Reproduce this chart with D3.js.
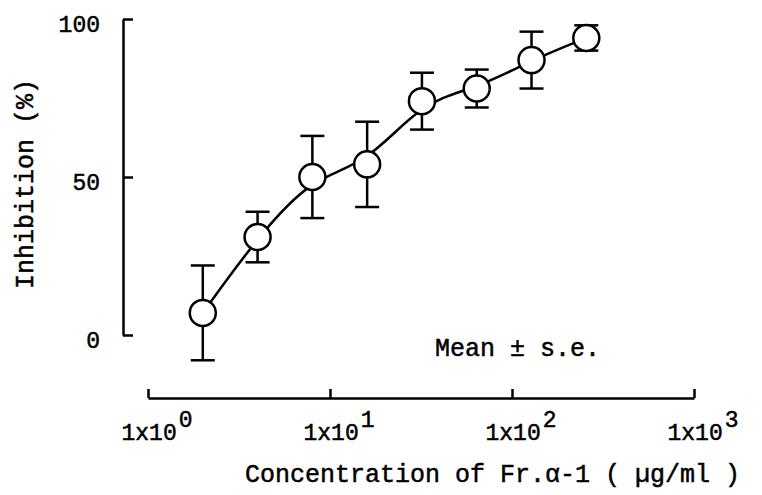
<!DOCTYPE html>
<html>
<head>
<meta charset="utf-8">
<script src="https://cdn.jsdelivr.net/npm/d3@7"></script>
<style>
  body { margin: 0; background: #fff; }
  text { font-family: "Liberation Mono", "DejaVu Sans Mono", monospace; fill: #000; stroke: #000; stroke-width: 0.5px; }
</style>
</head>
<body>
<div id="chart"></div>
<script>
// concentration (ug/ml) and inhibition
const conc = [2, 4, 8, 16, 32, 64, 128, 256];
const inhibition = [7, 31, 50, 54, 74, 78, 87, 94];
const se = [15, 8, 13, 13.5, 9, 6, 9, 4];

const xTicks = [1, 10, 100, 1000];
const xExp = ["0", "1", "2", "3"];
const yTicks = [0, 50, 100];

const w = 762, h = 495;

const svg = d3.select("#chart").append("svg")
  .attr("width", w)
  .attr("height", h);

const x = d3.scaleLog().domain([1, 1000]).range([148, 694]);
const y = d3.scaleLinear().domain([0, 100]).range([335, 19]);

// y axis, ticks pointing inward
const yAxis = svg.append("g")
  .attr("transform", "translate(123,0)")
  .call(d3.axisLeft(y).tickValues(yTicks).tickSize(-10).tickSizeOuter(0).tickPadding(23));
yAxis.selectAll("text").attr("dy", "0.55em").style("font-size", "23px");

// x axis sits apart from the plot, ticks up
const xAxis = svg.append("g")
  .attr("transform", "translate(0,398)")
  .call(d3.axisBottom(x).tickValues(xTicks).tickSize(-9).tickSizeOuter(0).tickPadding(26).tickFormat(""));

xAxis.selectAll(".tick text").each(function(d, i) {
  const t = d3.select(this)
    .attr("text-anchor", "start")
    .attr("x", -27)
    .style("font-size", "23px");
  t.append("tspan").text("1x10");
  t.append("tspan").attr("dx", 2).attr("dy", -13).text(xExp[i]);
});

svg.selectAll(".domain, .tick line")
  .attr("stroke", "#000")
  .attr("stroke-width", 2.5);

// smooth fitted curve
const pts = conc.map((c, i) => [x(c), y(inhibition[i])]);
svg.append("path")
  .datum(pts)
  .attr("fill", "none")
  .attr("stroke", "#000")
  .attr("stroke-width", 2.5)
  .attr("d", d3.line().curve(d3.curveBasis));

// error bars
const bars = svg.append("g").attr("stroke", "#000").attr("stroke-width", 2.5);
conc.forEach((c, i) => {
  const cx = x(c);
  const top = y(inhibition[i] + se[i]);
  const bot = y(inhibition[i] - se[i]);
  bars.append("line").attr("x1", cx).attr("x2", cx).attr("y1", top).attr("y2", bot);
  bars.append("line").attr("x1", cx - 12).attr("x2", cx + 12).attr("y1", top).attr("y2", top);
  bars.append("line").attr("x1", cx - 12).attr("x2", cx + 12).attr("y1", bot).attr("y2", bot);
});

svg.selectAll("circle.pt")
  .data(conc)
  .enter()
  .append("circle")
  .attr("class", "pt")
  .attr("cx", d => x(d))
  .attr("cy", (d, i) => y(inhibition[i]))
  .attr("r", 13)
  .attr("fill", "#fff")
  .attr("stroke", "#000")
  .attr("stroke-width", 2.5);

// labels
svg.append("text")
  .attr("x", 435)
  .attr("y", 356)
  .style("font-size", "25px")
  .text("Mean ± s.e.");

svg.append("text")
  .attr("x", 245)
  .attr("y", 482)
  .style("font-size", "25px")
  .text("Concentration of Fr.α-1 ( µg/ml )");

svg.append("text")
  .attr("transform", "translate(33,184) rotate(-90)")
  .attr("text-anchor", "middle")
  .style("font-size", "25px")
  .text("Inhibition (%)");
</script>
</body>
</html>
